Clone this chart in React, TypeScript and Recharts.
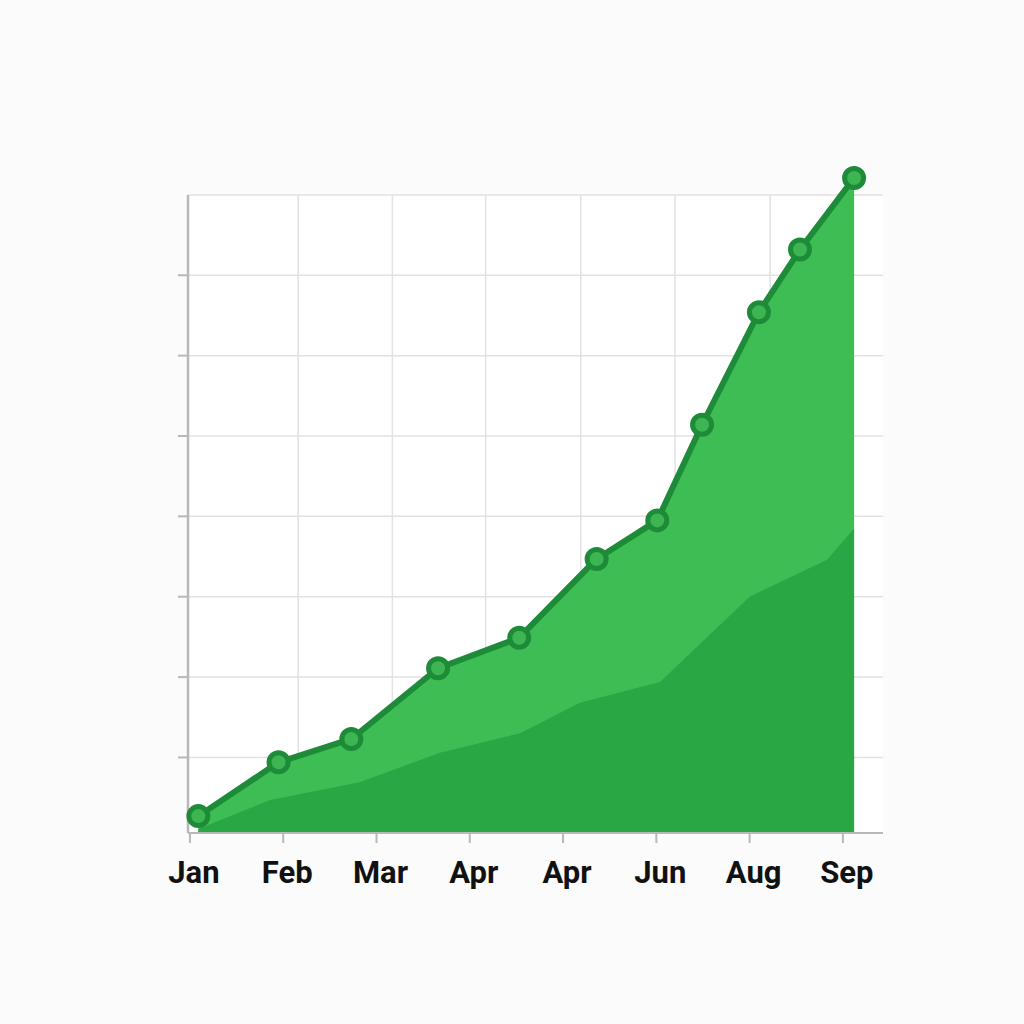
import React from "react";
import {
  ComposedChart,
  Area,
  XAxis,
  YAxis,
  ReferenceLine,
  ReferenceArea,
} from "recharts";

// month labels under the x ticks (index = tick position)
const months = ["Jan", "Feb", "Mar", "Apr", "Apr", "Jun", "Aug", "Sep"];
const monthTicks = [0, 1, 2, 3, 4, 5, 6, 7];

// upper series (line with markers)
const totalX = [0.09, 0.95, 1.73, 2.66, 3.53, 4.36, 5.01, 5.49, 6.1, 6.54, 7.12];
const totalY = [2.7, 9.4, 12.3, 21.1, 24.9, 34.7, 39.5, 51.4, 65.4, 73.2, 82.1];

// lower (darker) series
const baseX = [0.09, 0.86, 1.82, 2.68, 3.54, 4.18, 5.04, 6.0, 6.83, 7.12];
const baseY = [1.1, 4.7, 6.9, 10.6, 13.0, 16.8, 19.4, 30.0, 34.6, 38.5];

const yTicks = [10, 20, 30, 40, 50, 60, 70];
const gridY = [10, 20, 30, 40, 50, 60, 70, 80];
const gridX = [1.16, 2.17, 3.17, 4.19, 5.2, 6.22];

const X_MIN = -0.021;
const X_MAX = 7.43;
const Y_MIN = 0.6;
const Y_TOP = 80;
const Y_MAX = 82.6;

const totalData = totalX.map((x, i) => ({ x, v: totalY[i] }));
const baseData = baseX.map((x, i) => ({ x, v: baseY[i] }));

const GRID = "#e2e2e2";
const AXIS = "#b8b8b8";
const DARK = "#1e8b39";

export default function App() {
  return (
    <div
      style={{
        position: "absolute",
        left: 0,
        top: 0,
        width: 1024,
        height: 1024,
        background: "#fbfbfb",
      }}
    >
      <ComposedChart
        width={1024}
        height={1024}
        margin={{ top: 174, right: 141, bottom: 131, left: 168 }}
      >
        <XAxis
          type="number"
          dataKey="x"
          domain={[X_MIN, X_MAX]}
          ticks={monthTicks}
          tickFormatter={(i: number) => months[i] ?? ""}
          height={60}
          tickSize={10}
          tickMargin={18}
          axisLine={{ stroke: AXIS, strokeWidth: 2 }}
          tickLine={{ stroke: AXIS, strokeWidth: 2 }}
          tick={{
            fill: "#111",
            fontSize: 31,
            fontWeight: 700,
            fontFamily: "Roboto, sans-serif",
            dx: 4,
          }}
        />
        <YAxis
          type="number"
          domain={[Y_MIN, Y_MAX]}
          ticks={yTicks}
          tickFormatter={() => ""}
          width={20}
          tickSize={10}
          axisLine={false}
          tickLine={{ stroke: AXIS, strokeWidth: 2 }}
        />
        <ReferenceArea
          x1={X_MIN}
          x2={X_MAX}
          y1={Y_MIN}
          y2={Y_TOP}
          fill="#ffffff"
          fillOpacity={1}
          stroke="none"
          zIndex={-200}
        />
        {gridY.map((y) => (
          <ReferenceLine
            key={"h" + y}
            segment={[
              { x: X_MIN, y },
              { x: X_MAX, y },
            ]}
            stroke={GRID}
            strokeWidth={1.5}
            zIndex={-150}
          />
        ))}
        {gridX.map((x) => (
          <ReferenceLine
            key={"v" + x}
            segment={[
              { x, y: Y_MIN },
              { x, y: Y_TOP },
            ]}
            stroke={GRID}
            strokeWidth={1.5}
            zIndex={-150}
          />
        ))}
        <ReferenceLine
          segment={[
            { x: X_MIN, y: Y_MIN },
            { x: X_MIN, y: Y_TOP },
          ]}
          stroke={AXIS}
          strokeWidth={2.5}
          zIndex={-140}
        />
        <Area
          data={totalData}
          dataKey="v"
          type="linear"
          fill="#3dbd54"
          fillOpacity={1}
          stroke={DARK}
          strokeWidth={6}
          strokeLinejoin="round"
          dot={{ r: 9.5, fill: "#3db552", stroke: DARK, strokeWidth: 5 }}
          activeDot={false}
          isAnimationActive={false}
        />
        <Area
          data={baseData}
          dataKey="v"
          type="linear"
          fill="#29a744"
          fillOpacity={1}
          stroke="none"
          dot={false}
          activeDot={false}
          isAnimationActive={false}
        />
      </ComposedChart>
    </div>
  );
}
